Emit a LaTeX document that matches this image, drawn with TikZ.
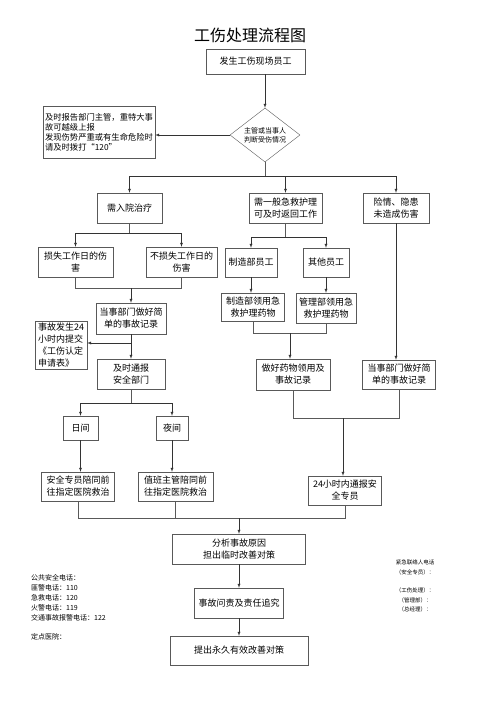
\documentclass[tikz,border=0pt]{standalone}
\usepackage{fontspec}
\setmainfont{Noto Sans CJK SC}
\usetikzlibrary{shapes.geometric}

\begin{document}
\begin{tikzpicture}[x=1pt,y=-1pt,>=latex,
        box/.style={draw=black!65,inner sep=1pt,align=center,font=\fontsize{9}{12}\selectfont},
        line/.style={draw=black!65},
        arr/.style={->,draw=black!80}]
        \useasboundingbox (0,0) rectangle (500,707);
        % title and top
        \node (title) at (250,35) {\fontsize{16}{16}\selectfont 工伤处理流程图};
        \node[box,minimum width=99,minimum height=25] (staff) at (255.5,61.5) {发生工伤现场员工};
        \node[diamond,draw=black!65,minimum width=70,minimum height=54,inner sep=0pt,aspect=1.3,
            align=center,font=\fontsize{7}{9}\selectfont] (judge) at (265,135) {主管或当事人\\判断受伤情况};
        \node[box,align=left,minimum width=112,minimum height=52,font=\fontsize{8.3}{10}\selectfont] (report) at (99,132)
            {及时报告部门主管，重特大事\\故可越级上报\\发现伤势严重或有生命危险时\\请及时拨打“120”};
        \node[box,minimum width=65,minimum height=30] (hosp) at (129.5,208) {需入院治疗};
        \node[box,minimum width=73,minimum height=30] (aid) at (285.5,208) {需一般急救护理\\可及时返回工作};
        \node[box,minimum width=66,minimum height=30] (risk) at (396,208) {险情、隐患\\未造成伤害};
        % left branch
        \node[box,minimum width=75,minimum height=30] (lost) at (75.5,262) {损失工作日的伤\\害};
        \node[box,minimum width=71,minimum height=30] (nolost) at (181.5,262) {不损失工作日的\\伤害};
        \node[box,minimum width=70,minimum height=31] (rec1) at (131,318.5) {当事部门做好简\\单的事故记录};
        \node[box,align=left,minimum width=52,minimum height=48] (apply) at (61,345) {事故发生24\\小时内提交\\《工伤认定\\申请表》};
        \node[box,minimum width=68,minimum height=30] (notify) at (131,374) {及时通报\\安全部门};
        \node[box,minimum width=35,minimum height=24] (day) at (80.5,428) {日间};
        \node[box,minimum width=32,minimum height=24] (night) at (172,428) {夜间};
        \node[box,minimum width=73,minimum height=29] (escort1) at (78,486.5) {安全专员陪同前\\往指定医院救治};
        \node[box,minimum width=75,minimum height=29] (escort2) at (175.5,486.5) {值班主管陪同前\\往指定医院救治};
        % right branch
        \node[box,minimum width=52,minimum height=29] (mfg) at (251,262.5) {制造部员工};
        \node[box,minimum width=46,minimum height=29] (other) at (326,262.5) {其他员工};
        \node[box,minimum width=63,minimum height=28] (mfgdrug) at (253,307) {制造部领用急\\救护理药物};
        \node[box,minimum width=60,minimum height=30] (mgtdrug) at (326,308) {管理部领用急\\救护理药物};
        \node[box,minimum width=74,minimum height=31] (drugrec) at (293,374.5) {做好药物领用及\\事故记录};
        \node[box,minimum width=73,minimum height=29] (rec2) at (399,374.5) {当事部门做好简\\单的事故记录};
        \node[box,minimum width=73,minimum height=29] (report24) at (345,490.5) {24小时内通报安\\全专员};
        % bottom
        \node[box,minimum width=133,minimum height=30] (analyse) at (239,549) {分析事故原因\\担出临时改善对策};
        \node[box,minimum width=89,minimum height=30] (blame) at (239,603) {事故问责及责任追究};
        \node[box,minimum width=138,minimum height=29] (improve) at (239,650.5) {提出永久有效改善对策};
        \node[anchor=north west,align=left,inner sep=0pt,font=\fontsize{7}{10}\selectfont] (phones) at (31,574)
            {公共安全电话：\\匪警电话：110\\急救电话：120\\火警电话：119\\交通事故报警电话：122\\[9pt]定点医院：};
        \node[align=center,inner sep=0pt,font=\fontsize{5.5}{9.5}\selectfont] (contact) at (415,586)
            {紧急联络人电话\\（安全专员）：\\[9pt]（工伤处理）：\\（管理部）：\\（总经理）：};
        % connectors
        \coordinate (b1) at (265,176);
        \coordinate (b2) at (129.5,233);
        \coordinate (m1) at (131,288);
        \coordinate (b3) at (131,343);
        \coordinate (b4) at (131,403);
        \coordinate (b5) at (285.5,237);
        \coordinate (m2) at (290,333);
        \coordinate (m3) at (343,418);
        \coordinate (m4) at (239,518);
        \draw[arr] (judge.north |- staff.south) -- (judge.north);
        \draw[arr] (judge.west) -- (judge.west -| report.east);
        \draw[line] (judge.south) -- (b1);
        \draw[arr] (b1) -| (hosp);
        \draw[arr] (b1) -| (aid);
        \draw[arr] (b1) -| (risk);
        \draw[line] (hosp.south) -- (b2);
        \draw[arr] (b2) -| (lost);
        \draw[arr] (b2) -| (nolost);
        \draw[line] (lost.south) |- (m1 -| nolost.south) -- (nolost.south);
        \draw[arr] (m1) -- (m1 |- rec1.north);
        \draw[arr] (rec1.south) -- (rec1.south |- notify.north);
        \draw[arr] (b3) -- (b3 -| apply.east);
        \draw[line] (notify.south) -- (b4);
        \draw[arr] (b4) -| (day);
        \draw[arr] (b4) -| (night);
        \draw[arr] (day.south) -- (day.south |- escort1.north);
        \draw[arr] (night.south) -- (night.south |- escort2.north);
        \draw[line] (aid.south) -- (b5);
        \draw[arr] (b5) -| (mfg);
        \draw[arr] (b5) -| (other);
        \draw[arr] (mfg.south) -- (mfg.south |- mfgdrug.north);
        \draw[arr] (other.south) -- (other.south |- mgtdrug.north);
        \draw[line] (mfgdrug.south) |- (m2 -| mgtdrug.south) -- (mgtdrug.south);
        \draw[arr] (m2) -- (m2 |- drugrec.north);
        \draw[arr] (risk.south) -- (risk.south |- rec2.north);
        \draw[line] (drugrec.south) |- (m3 -| rec2.south) -- (rec2.south);
        \draw[arr] (m3) -- (m3 |- report24.north);
        \draw[line] (escort1.south) |- (m4 -| report24.south) -- (report24.south);
        \draw[line] (escort2.south) -- (escort2.south |- m4);
        \draw[arr] (m4) -- (analyse);
        \draw[arr] (analyse) -- (blame);
        \draw[arr] (blame) -- (improve);
    \end{tikzpicture}
\end{document}
